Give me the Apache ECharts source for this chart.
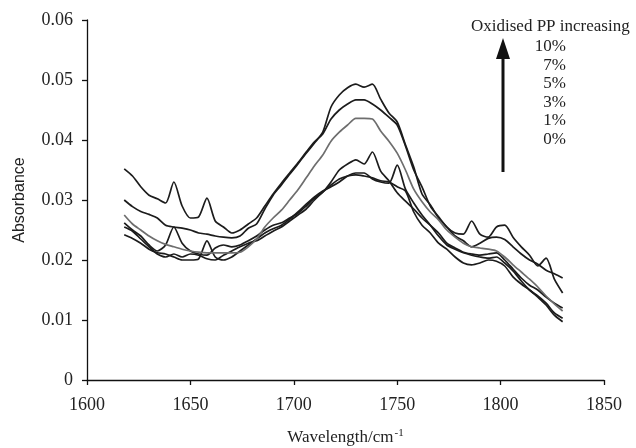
<!DOCTYPE html>
<html>
<head>
<meta charset="utf-8">
<script src="https://cdn.jsdelivr.net/npm/echarts@6/dist/echarts.min.js"></script>
<style>html,body{margin:0;padding:0;background:#fff;}#c{width:636px;height:448px;}</style>
</head>
<body>
<div id="c"></div>
<script>
// wavelengths (cm-1), shared by every spectrum
const wavelength = [1618,1622,1626,1630,1634,1638,1642,1646,1650,1654,1658,1662,1666,1670,1674,1678,1682,1686,1690,1694,1698,1702,1706,1710,1714,1718,1722,1726,1730,1734,1738,1742,1746,1750,1754,1758,1762,1766,1770,1774,1778,1782,1786,1790,1794,1798,1802,1806,1810,1814,1818,1822,1826,1830];

const pp10 = [0.0300,0.0289,0.0281,0.0276,0.0270,0.0258,0.0255,0.0253,0.0250,0.0245,0.0243,0.0240,0.0238,0.0237,0.0240,0.0253,0.0260,0.0285,0.0308,0.0325,0.0343,0.0360,0.0378,0.0395,0.0413,0.0455,0.0475,0.0487,0.0493,0.0488,0.0493,0.0468,0.0445,0.0430,0.0392,0.0355,0.0310,0.0292,0.0270,0.0255,0.0240,0.0232,0.0222,0.0228,0.0236,0.0238,0.0234,0.0222,0.0210,0.0200,0.0193,0.0183,0.0177,0.0170];
const pp7 = [0.0352,0.0340,0.0322,0.0308,0.0302,0.0295,0.0330,0.0290,0.0270,0.0272,0.0303,0.0265,0.0255,0.0245,0.0250,0.0260,0.0270,0.0290,0.0310,0.0328,0.0345,0.0362,0.0380,0.0397,0.0410,0.0435,0.0450,0.0460,0.0467,0.0467,0.0460,0.0450,0.0438,0.0425,0.0390,0.0350,0.0322,0.0290,0.0272,0.0255,0.0245,0.0243,0.0265,0.0243,0.0238,0.0255,0.0258,0.0238,0.0222,0.0208,0.0190,0.0203,0.0168,0.0145];
const pp5 = [0.0275,0.0260,0.0250,0.0240,0.0232,0.0226,0.0222,0.0218,0.0215,0.0213,0.0212,0.0212,0.0212,0.0212,0.0213,0.0222,0.0235,0.0255,0.0270,0.0283,0.0300,0.0317,0.0337,0.0357,0.0375,0.0398,0.0413,0.0425,0.0436,0.0436,0.0435,0.0415,0.0398,0.0378,0.0350,0.0318,0.0297,0.0280,0.0267,0.0250,0.0238,0.0228,0.0222,0.0220,0.0218,0.0215,0.0205,0.0192,0.0180,0.0168,0.0155,0.0140,0.0127,0.0115];
const pp3 = [0.0262,0.0250,0.0240,0.0225,0.0215,0.0225,0.0255,0.0228,0.0215,0.0210,0.0208,0.0220,0.0225,0.0222,0.0225,0.0232,0.0240,0.0250,0.0258,0.0262,0.0270,0.0278,0.0290,0.0303,0.0313,0.0330,0.0350,0.0360,0.0367,0.0360,0.0380,0.0348,0.0332,0.0312,0.0298,0.0285,0.0270,0.0258,0.0245,0.0228,0.0220,0.0213,0.0210,0.0208,0.0210,0.0212,0.0200,0.0185,0.0170,0.0158,0.0150,0.0138,0.0128,0.0120];
const pp1 = [0.0242,0.0236,0.0228,0.0218,0.0212,0.0210,0.0205,0.0200,0.0200,0.0202,0.0232,0.0205,0.0200,0.0205,0.0215,0.0225,0.0235,0.0245,0.0252,0.0258,0.0268,0.0280,0.0293,0.0305,0.0315,0.0322,0.0330,0.0340,0.0345,0.0345,0.0335,0.0330,0.0328,0.0358,0.0318,0.0295,0.0275,0.0258,0.0240,0.0225,0.0218,0.0212,0.0208,0.0205,0.0203,0.0205,0.0195,0.0182,0.0165,0.0150,0.0140,0.0128,0.0112,0.0103];
const pp0 = [0.0255,0.0248,0.0235,0.0222,0.0210,0.0205,0.0210,0.0205,0.0210,0.0208,0.0202,0.0200,0.0208,0.0215,0.0222,0.0228,0.0232,0.0240,0.0248,0.0255,0.0265,0.0275,0.0285,0.0300,0.0313,0.0325,0.0335,0.0340,0.0342,0.0340,0.0337,0.0332,0.0330,0.0322,0.0315,0.0280,0.0258,0.0245,0.0228,0.0218,0.0205,0.0195,0.0192,0.0195,0.0200,0.0198,0.0190,0.0172,0.0160,0.0150,0.0138,0.0125,0.0108,0.0097];

const legendTitle = 'Oxidised PP increasing';
const legendLabels = ['10%','7%','5%','3%','1%','0%'];
const xTicks = {min:1600, max:1850, step:50};
const yTicks = {min:0, max:0.06, step:0.01};

const serif = '"Liberation Serif","Times New Roman",serif';
const spectra = [
  {name:'10%', v:pp10, c:'#1c1c1c'},
  {name:'7%',  v:pp7,  c:'#1c1c1c'},
  {name:'3%',  v:pp3,  c:'#1c1c1c'},
  {name:'1%',  v:pp1,  c:'#1c1c1c'},
  {name:'0%',  v:pp0,  c:'#1c1c1c'},
  {name:'5%',  v:pp5,  c:'#6e6e6e'}
];

const chart = echarts.init(document.getElementById('c'), null, {renderer:'canvas'});
const labelGraphics = legendLabels.map((t,i)=>({
  type:'text', right: 636-566, top: 38 + i*18.6,
  style:{text:t, font:'17px '+serif, fill:'#222', textAlign:'right'}
}));

chart.setOption({
  animation:false,
  backgroundColor:'#fff',
  grid:{left:87, right:32, top:20, bottom:68, containLabel:false, outerBoundsMode:'none'},
  xAxis:{
    type:'value', min:xTicks.min, max:xTicks.max, interval:xTicks.step,
    axisLine:{lineStyle:{color:'#111', width:1.3}},
    axisTick:{inside:false, length:5, lineStyle:{color:'#111', width:1.3}},
    splitLine:{show:false},
    axisLabel:{color:'#222', fontFamily:serif, fontSize:18, margin:16, formatter:v=>String(v)},
    name:'Wavelength/cm{sup|-1}', nameLocation:'middle', nameGap:48,
    nameTextStyle:{color:'#222', fontFamily:serif, fontSize:17,
      rich:{sup:{fontFamily:serif, fontSize:11, color:'#222', verticalAlign:'top', padding:[0,0,9,1]}}}
  },
  yAxis:{
    type:'value', min:yTicks.min, max:yTicks.max, interval:yTicks.step,
    axisLine:{show:true, lineStyle:{color:'#111', width:1.3}},
    axisTick:{show:true, inside:false, length:5, lineStyle:{color:'#111', width:1.3}},
    splitLine:{show:false},
    axisLabel:{color:'#222', fontFamily:serif, fontSize:18, margin:14,
      formatter:v=> v===0 ? '0' : v.toFixed(2)},
    name:'Absorbance', nameLocation:'middle', nameRotate:90, nameGap:59,
    nameTextStyle:{color:'#222', fontFamily:'"Liberation Sans",Arial,sans-serif', fontSize:16}
  },
  series: spectra.map(s=>({
    type:'line', name:s.name, showSymbol:false, smooth:0.25,
    lineStyle:{color:s.c, width:1.7},
    data: wavelength.map((w,i)=>[w, s.v[i]])
  })),
  graphic:[
    {type:'text', left:471, top:18, style:{text:legendTitle, font:'17px '+serif, fill:'#222'}},
    {type:'line', shape:{x1:503, y1:172, x2:503, y2:55}, style:{stroke:'#111', lineWidth:3}},
    {type:'polygon', shape:{points:[[496,59],[510,59],[503,38]]}, style:{fill:'#111'}}
  ].concat(labelGraphics)
});
</script>
</body>
</html>
